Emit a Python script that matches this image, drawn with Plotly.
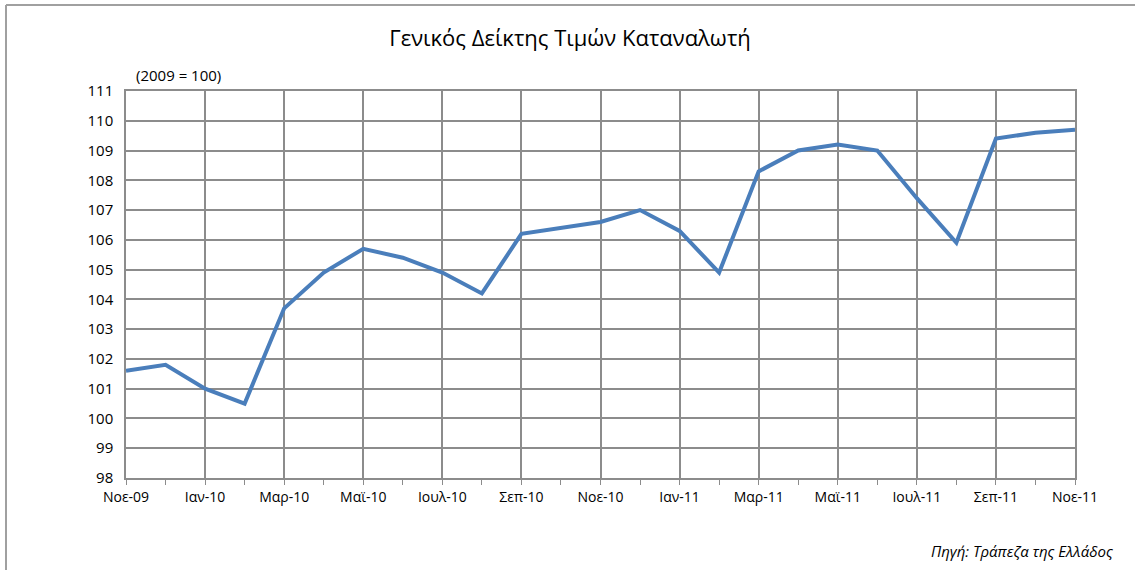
import plotly.graph_objects as go

months = ["Νοε-09", "Δεκ-09", "Ιαν-10", "Φεβ-10", "Μαρ-10", "Απρ-10", "Μαϊ-10", "Ιουν-10",
          "Ιουλ-10", "Αυγ-10", "Σεπ-10", "Οκτ-10", "Νοε-10", "Δεκ-10", "Ιαν-11", "Φεβ-11",
          "Μαρ-11", "Απρ-11", "Μαϊ-11", "Ιουν-11", "Ιουλ-11", "Αυγ-11", "Σεπ-11", "Οκτ-11", "Νοε-11"]
cpi = [101.6, 101.8, 101.0, 100.5, 103.7, 104.9, 105.7, 105.4, 104.9, 104.2, 106.2, 106.4,
       106.6, 107.0, 106.3, 104.9, 108.3, 109.0, 109.2, 109.0, 107.4, 105.9, 109.4, 109.6, 109.7]
y_ticks = list(range(98, 112))

x_idx = list(range(len(months)))
tick_pos = x_idx[::2]
tick_txt = months[::2]

FONT = "Open Sans"
# plot area on screen: x 126..1075, y 91..478 (body margin removed below)
L, T, W, H = 126, 91, 949, 387
fig = go.Figure()
fig.add_trace(go.Scatter(x=x_idx, y=cpi, mode="lines",
                         line=dict(color="#4a7ebb", width=4), hoverinfo="y"))

fig.update_layout(
    width=1135, height=570,
    margin=dict(l=L, r=1135 - L - W, t=T, b=570 - T - H),
    paper_bgcolor="white", plot_bgcolor="white",
    showlegend=False,
    font=dict(family=FONT, size=14, color="#000"),
    title=dict(text="Γενικός Δείκτης Τιμών Καταναλωτή", x=570 / 1135, xanchor="center",
               y=1 - 38/570, yanchor="middle", font=dict(size=22, family=FONT, color="#000")),
    xaxis=dict(range=[0, 24], tickvals=tick_pos, ticktext=tick_txt,
               showgrid=True, gridcolor="#8c8c8c", gridwidth=1.5,
               showline=True, linecolor="#8c8c8c", linewidth=1.5, mirror=True,
               ticks="outside", ticklen=5, tickcolor="#8c8c8c",
               minor=dict(dtick=1, ticks="outside", ticklen=5, tickcolor="#8c8c8c", showgrid=False),
               tickfont=dict(size=14), zeroline=False),
    yaxis=dict(range=[98, 111], tickvals=y_ticks, showgrid=True, gridcolor="#8c8c8c", gridwidth=1.5,
               showline=True, linecolor="#8c8c8c", linewidth=1.5, mirror=True,
               ticks="", tickfont=dict(size=15), zeroline=False, ticklabelstandoff=8),
    annotations=[
        dict(text="(2009 = 100)", xref="paper", yref="paper", x=(178-126)/949, y=1 + (91-75)/387,
             xanchor="center", yanchor="middle", showarrow=False, font=dict(size=15)),
        dict(text="<i>Πηγή: Τράπεζα της Ελλάδος</i>", xref="paper", yref="paper",
             x=(1115-126)/949, y=-(551-478)/387, xanchor="right", yanchor="middle",
             showarrow=False, font=dict(size=15)),
    ],
    shapes=[
        dict(type="line", xref="paper", yref="paper", x0=(6-126)/949, x1=(1135-126)/949,
             y0=1 + (91-5)/387, y1=1 + (91-5)/387, line=dict(color="#a0a0a0", width=2)),
        dict(type="line", xref="paper", yref="paper", x0=(6-126)/949, x1=(6-126)/949,
             y0=1 + (91-5)/387, y1=-(570-478)/387, line=dict(color="#a0a0a0", width=2)),
    ],
)

fig.write_html("out.html", config={"displayModeBar": False},
               post_script="document.body.style.margin='0';document.body.style.padding='0';")
